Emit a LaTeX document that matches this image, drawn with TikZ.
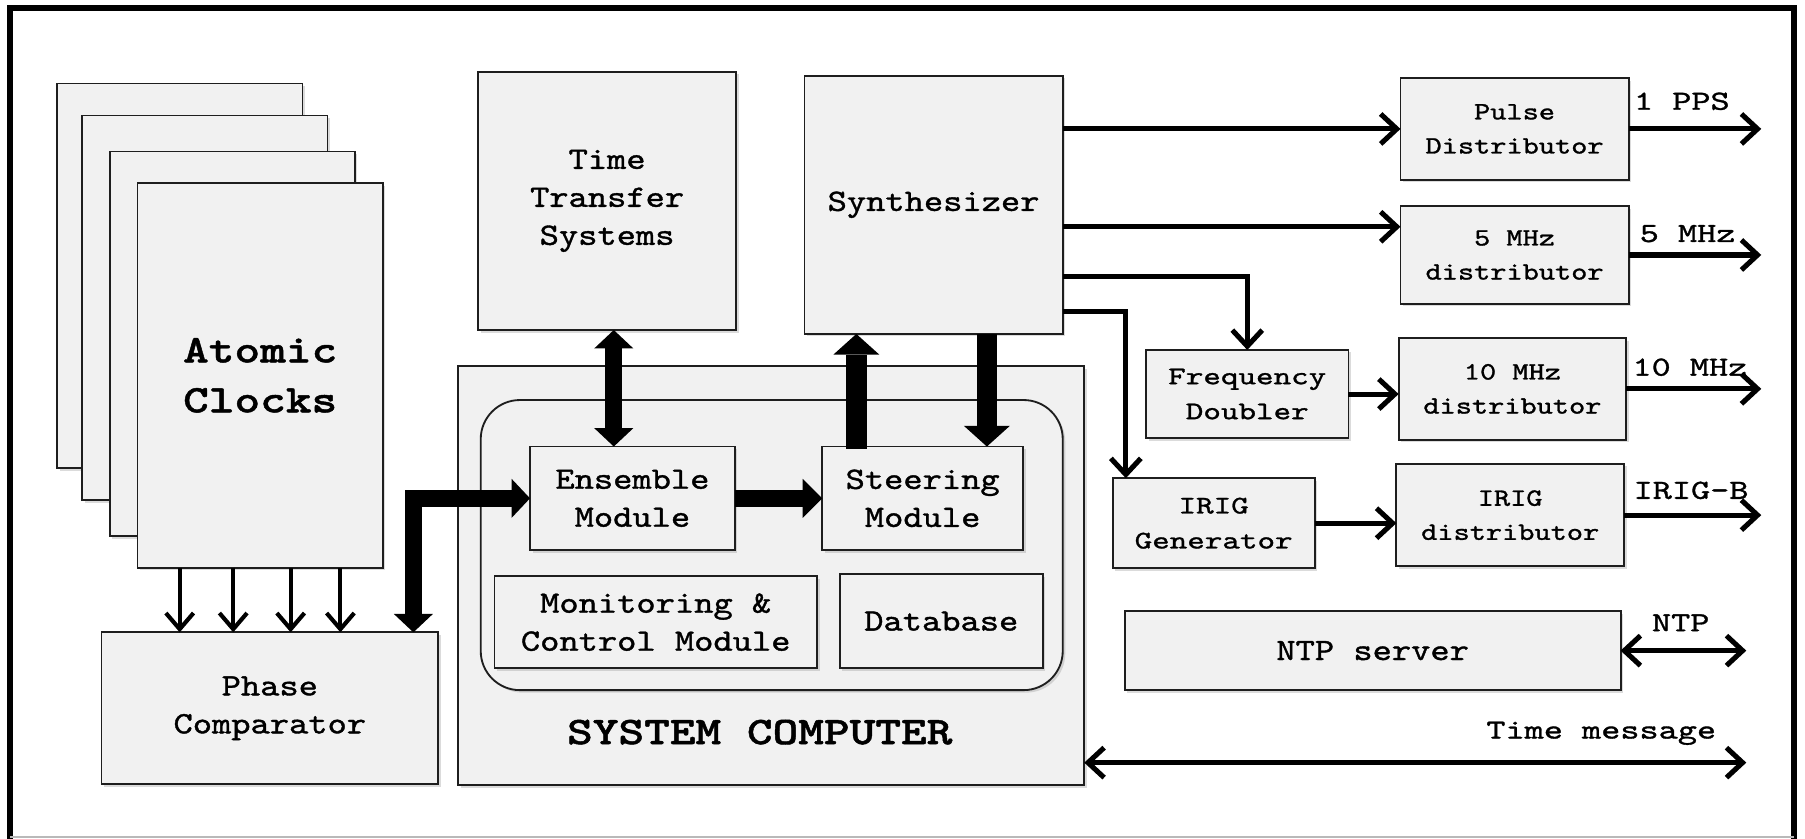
\documentclass[tikz,border=0pt]{standalone}
\usepackage{fontspec}
\usetikzlibrary{arrows.meta,calc,shadows}
\newfontfamily\fmain{lmmono10-regular.otf}[FakeStretch=1.18,FakeBold=1.2]
\newfontfamily\fbig{lmmonolt10-bold.otf}[FakeStretch=1.25,FakeBold=1.2]
\newfontfamily\fdist{lmmono10-regular.otf}[FakeStretch=1.24,FakeBold=1.2]
\newfontfamily\fgen{lmmono10-regular.otf}[FakeStretch=1.32,FakeBold=1.2]
\newfontfamily\flab{lmmono10-regular.otf}[FakeStretch=1.32,FakeBold=1.2]
\definecolor{boxgray}{HTML}{F1F1F1}
\definecolor{edge}{HTML}{1E1E1E}
\tikzset{
  box/.style={draw=edge, fill=boxgray, line width=0.8pt, inner sep=0pt, outer sep=0pt,
    align=center, text=black,
    drop shadow={shadow xshift=1.1pt, shadow yshift=-1.1pt, opacity=0.28}},
  mainfont/.style={font=\fmain\fontsize{13.5}{16.5}\selectfont},
  bigfont/.style={font=\fbig\fontsize{17}{21.7}\selectfont},
  distfont/.style={font=\fdist\fontsize{10.8}{14.8}\selectfont},
  genfont/.style={font=\fgen\fontsize{11}{15.2}\selectfont},
  labfont/.style={font=\flab\fontsize{12}{14}\selectfont, inner sep=0pt},
  arr/.style={line width=2.2pt, -{Straight Barb[length=7pt,width=13pt]}},
  darr/.style={line width=2.2pt, {Straight Barb[length=7pt,width=13pt]}-{Straight Barb[length=7pt,width=13pt]}},
  carr/.style={line width=1.8pt, -{Straight Barb[length=7pt,width=12pt]}},
  bigarr/.style={line width=7.5pt, -{Triangle[length=8.5pt,width=17pt,line width=0pt]}},
  bigboth/.style={line width=7.5pt, {Triangle[length=8pt,width=17pt,line width=0pt]}-{Triangle[length=8pt,width=17pt,line width=0pt]}},
  hugearr/.style={line width=9pt, -{Triangle[length=9pt,width=20pt,line width=0pt]}},
}
\begin{document}
\begin{tikzpicture}[x=0.5pt,y=-0.5pt]
\useasboundingbox (0,0) rectangle (1568,728);
\fill[white] (0,0) rectangle (1568,728);
% frame
\draw[line width=2.5pt, line join=miter] (9,735) -- (9,6.8) -- (1558.5,6.8) -- (1558.5,735);
\draw[gray!55, line width=0.8pt] (9,727.3) -- (1558.5,727.3);

% atomic clocks stack
\node[box, minimum width=106.5pt, minimum height=167pt] (c1) at (156.3,239.6) {};
\node[box, minimum width=106.5pt, minimum height=167pt] (c2) at (178,267.4) {};
\node[box, minimum width=106.5pt, minimum height=167pt] (c3) at (201.8,298.6) {};
\node[box, bigfont, minimum width=106.5pt, minimum height=167pt] (c4) at (226,326.1) {Atomic\\Clocks};

% phase comparator
\node[box, mainfont, minimum width=146.2pt, minimum height=66pt] (phase) at (234.4,615.3) {Phase\\Comparator};

% top boxes
\node[box, mainfont, minimum width=112pt, minimum height=112.2pt] (tt) at (527.4,174.5) {Time\\Transfer\\Systems};
\node[box, mainfont, minimum width=112.2pt, minimum height=112.2pt] (synth) at (811,177.9) {Synthesizer};

% system computer
\node[box, minimum width=272pt, minimum height=181.9pt] (sys) at (669.9,500.1) {};
\node[bigfont, inner sep=0pt] (syslab) at (660,636) {SYSTEM COMPUTER};
\node[box, rounded corners=17pt, minimum width=252.8pt, minimum height=126pt] (inner) at (670.4,473.5) {};
\node[box, mainfont, minimum width=89pt, minimum height=45pt] (ens) at (549.4,432.9) {Ensemble\\Module};
\node[box, mainfont, minimum width=87.2pt, minimum height=45pt] (steer) at (801.5,432.9) {Steering\\Module};
\node[box, mainfont, minimum width=140.1pt, minimum height=40.1pt] (mon) at (569.6,540.5) {Monitoring \&\\Control Module};
\node[box, mainfont, minimum width=88.3pt, minimum height=41pt] (db) at (817.7,539.6) {Database};

% right side
\node[box, distfont, minimum width=99.1pt, minimum height=44pt] (pulse) at (1315.7,112) {Pulse\\Distributor};
\node[box, distfont, minimum width=99.1pt, minimum height=42.5pt] (mhz5) at (1315.7,221.5) {5 MHz\\distributor};
\node[box, genfont, minimum width=87.9pt, minimum height=38.3pt] (fd) at (1083.5,342.3) {Frequency\\Doubler};
\node[box, distfont, minimum width=98.8pt, minimum height=44.2pt] (mhz10) at (1313.8,337.8) {10 MHz\\distributor};
\node[box, genfont, minimum width=87.8pt, minimum height=39.1pt] (irigg) at (1054.3,454.5) {IRIG\\Generator};
\node[box, distfont, minimum width=98.9pt, minimum height=44.5pt] (irigd) at (1311.9,447.5) {IRIG\\distributor};
\node[box, mainfont, minimum width=215.4pt, minimum height=34.2pt] (ntp) at (1192.4,565.2) {NTP server};

% output labels
\node[labfont] (l1) at (1461,88) {1 PPS};
\node[labfont] (l2) at (1466,203) {5 MHz};
\node[labfont] (l3) at (1468,319) {10 MHz};
\node[labfont] (l4) at (1469,426) {IRIG-B};
\node[labfont] (l5) at (1460,541) {NTP};
\node[labfont] (l6) at (1391,637) {Time message};

% helper coordinates
\coordinate (tipx) at (1530,0);
\coordinate (tipn) at (1517,0);
\coordinate (ca1) at ($(c4.south west)+(36.6,0)$);
\coordinate (ca2) at ($(c4.south west)+(83.1,0)$);
\coordinate (ca3) at ($(c4.south west)+(133,0)$);
\coordinate (ca4) at ($(c4.south west)+(176.2,0)$);
\coordinate (pcin) at ($(phase.north west)+(270.9,0)$);
\coordinate (tte) at ($(ens.north west)+(72.8,0)$);
\coordinate (su) at ($(steer.north west)+(29.6,0)$);
\coordinate (sd) at ($(steer.north west)+(143,0)$);
\coordinate (m5in) at ($(mhz5.west)+(0,-24.5)$);
\coordinate (s3) at ($(synth.south east)+(0,-50)$);
\coordinate (s4) at ($(synth.south east)+(0,-19.4)$);
\coordinate (irigin) at ($(irigg.north west)+(11.5,0)$);
\coordinate (tmL) at ($(sys.south east)+(0,-19.5)$);

% clocks to phase comparator
\draw[carr] (ca1) -- (ca1 |- phase.north);
\draw[carr] (ca2) -- (ca2 |- phase.north);
\draw[carr] (ca3) -- (ca3 |- phase.north);
\draw[carr] (ca4) -- (ca4 |- phase.north);

% thick arrows
\draw[bigboth, line join=miter] (pcin) |- (ens.west);
\draw[bigboth] (tte |- tt.south) -- (tte);
\draw[bigarr] (ens.east) -- (steer.west);
\draw[hugearr] ([yshift=-1pt]su) -- (su |- synth.south);
\draw[hugearr] (sd |- synth.south) -- (sd);

% synthesizer outputs
\draw[arr] (synth.east |- pulse.west) -- (pulse.west);
\draw[arr] (synth.east |- m5in) -- (m5in);
\draw[arr, line join=miter] (s3) -| (fd.north);
\draw[arr, line join=miter] (s4) -| (irigin);
\draw[arr] (fd.east) -- (fd.east -| mhz10.west);
\draw[arr] (irigg.east) -- (irigg.east -| irigd.west);

% outputs
\draw[arr] (pulse.east) -- (pulse.east -| tipx);
\draw[arr] (mhz5.east) -- (mhz5.east -| tipx);
\draw[arr] (mhz10.east) -- (mhz10.east -| tipx);
\draw[arr] (irigd.east) -- (irigd.east -| tipx);
\draw[darr] (ntp.east) -- (ntp.east -| tipn);
\draw[darr] (tmL) -- (tmL -| tipn);
\end{tikzpicture}
\end{document}
